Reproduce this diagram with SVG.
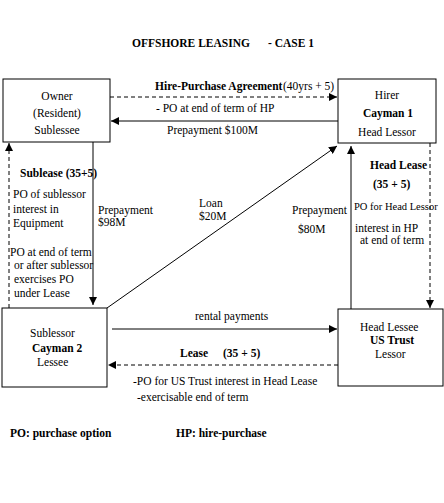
<svg xmlns="http://www.w3.org/2000/svg" width="444" height="503" viewBox="0 0 444 503">
<style>
text{font-family:"Liberation Serif","Times New Roman",serif;font-size:11.5px;fill:#000}
.b{font-weight:bold}
.box{fill:#fff;stroke:#000;stroke-width:1}
.ln{fill:none;stroke:#000;stroke-width:1}
.d{stroke-dasharray:4 3}
</style>
<defs>
<marker id="ah" viewBox="0 0 10 10" refX="10" refY="5" markerWidth="8" markerHeight="8" markerUnits="userSpaceOnUse" orient="auto">
<path d="M0,0 L10,5 L0,10 z" fill="#000"/>
</marker>
</defs>
<rect width="444" height="503" fill="#fff"/>
<text class="b" x="132" y="47">OFFSHORE LEASING</text>
<text class="b" x="268" y="47">- CASE 1</text>

<g id="connectors">
<line class="ln d" x1="110" y1="97" x2="337" y2="97" marker-end="url(#ah)"/>
<line class="ln" x1="338" y1="121" x2="111" y2="121" marker-end="url(#ah)"/>
<line class="ln d" x1="9" y1="308" x2="9" y2="143" marker-end="url(#ah)"/>
<line class="ln" x1="93" y1="142" x2="93" y2="305" marker-end="url(#ah)"/>
<line class="ln" x1="107" y1="308" x2="337" y2="146" marker-end="url(#ah)" stroke-width="0.8"/>
<line class="ln" x1="351" y1="309" x2="351" y2="146" marker-end="url(#ah)"/>
<line class="ln d" x1="430" y1="143" x2="430" y2="308" marker-end="url(#ah)"/>
<line class="ln" x1="112" y1="329" x2="337" y2="329" marker-end="url(#ah)"/>
<line class="ln d" x1="338" y1="365" x2="108" y2="365" marker-end="url(#ah)"/>
</g>

<g id="owner">
<rect class="box" x="3" y="79" width="107" height="63"/>
<text x="57" y="100" text-anchor="middle">Owner</text>
<text x="57" y="117" text-anchor="middle">(Resident)</text>
<text x="57" y="134" text-anchor="middle">Sublessee</text>
</g>
<g id="hirer">
<rect class="box" x="338" y="79" width="98" height="64"/>
<text x="387" y="99" text-anchor="middle">Hirer</text>
<text class="b" x="388" y="117" text-anchor="middle">Cayman 1</text>
<text x="387" y="136" text-anchor="middle">Head Lessor</text>
</g>
<g id="cayman2">
<rect class="box" x="2" y="308" width="105" height="79"/>
<text x="30" y="337">Sublessor</text>
<text class="b" x="32" y="352">Cayman 2</text>
<text x="37" y="366">Lessee</text>
</g>
<g id="ustrust">
<rect class="box" x="338" y="309" width="105" height="77"/>
<text x="360" y="331">Head Lessee</text>
<text class="b" x="370" y="344">US Trust</text>
<text x="375" y="358">Lessor</text>
</g>

<g id="labels">
<text class="b" x="155" y="90">Hire-Purchase Agreement</text>
<text x="283" y="90">(40yrs + 5)</text>
<text x="156" y="112">- PO at end of term of HP</text>
<text x="167" y="134">Prepayment $100M</text>
<text class="b" x="20" y="177">Sublease (35+5)</text>
<text x="13" y="198">PO of sublessor</text>
<text x="13" y="213">interest in</text>
<text x="13" y="227">Equipment</text>
<text x="10" y="256">PO at end of term</text>
<text x="14" y="269">or after sublessor</text>
<text x="14" y="283">exercises PO</text>
<text x="14" y="297">under Lease</text>
<text x="98" y="214">Prepayment</text>
<text x="98" y="226">$98M</text>
<text x="199" y="207">Loan</text>
<text x="199" y="220">$20M</text>
<text x="292" y="214">Prepayment</text>
<text x="298" y="233">$80M</text>
<text class="b" x="370" y="169">Head Lease</text>
<text class="b" x="373" y="188">(35 + 5)</text>
<text x="354" y="210" style="font-size:10.5px">PO for Head Lessor</text>
<text x="355" y="232">interest in HP</text>
<text x="360" y="244">at end of term</text>
<text x="195" y="320">rental payments</text>
<text class="b" x="180" y="357">Lease</text>
<text class="b" x="223" y="357">(35 + 5)</text>
<text x="133" y="385">-PO for US Trust interest in Head Lease</text>
<text x="137" y="401">-exercisable end of term</text>
<text class="b" x="10" y="437">PO: purchase option</text>
<text class="b" x="176" y="437">HP: hire-purchase</text>
</g>
</svg>
